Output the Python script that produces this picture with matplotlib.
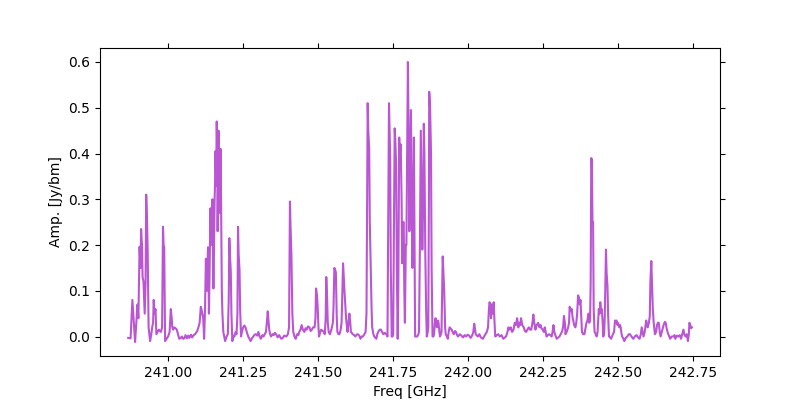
import matplotlib

# Use a non-interactive backend for saving files.
matplotlib.use('Agg')

import matplotlib.pyplot as plt
from matplotlib.ticker import ScalarFormatter

# --- Spectrum (frequency in GHz, amplitude in Jy/bm) ---
freq_ghz = [
    240.867, 240.875, 240.881, 240.885, 240.890, 240.894, 240.898, 240.901, 240.905, 240.908,
    240.910, 240.913, 240.915, 240.918, 240.922, 240.925, 240.927, 240.930, 240.932, 240.935,
    240.940, 240.944, 240.947, 240.950, 240.952, 240.955, 240.958, 240.961, 240.965, 240.969,
    240.976, 240.980, 240.983, 240.985, 240.987, 240.990, 240.995, 241.000, 241.005, 241.009,
    241.012, 241.014, 241.017, 241.020, 241.025, 241.029, 241.033, 241.037, 241.042, 241.046,
    241.050, 241.054, 241.058, 241.063, 241.067, 241.071, 241.076, 241.080, 241.085, 241.090,
    241.097, 241.101, 241.105, 241.109, 241.111, 241.114, 241.117, 241.120, 241.123, 241.126,
    241.129, 241.131, 241.133, 241.135, 241.136, 241.138, 241.141, 241.143, 241.146, 241.148,
    241.150, 241.151, 241.153, 241.155, 241.157, 241.158, 241.160, 241.162, 241.164, 241.165,
    241.166, 241.168, 241.170, 241.172, 241.173, 241.175, 241.177, 241.179, 241.181, 241.184,
    241.187, 241.190, 241.195, 241.199, 241.202, 241.204, 241.206, 241.209, 241.211, 241.214,
    241.218, 241.221, 241.225, 241.228, 241.231, 241.233, 241.235, 241.238, 241.240, 241.243,
    241.246, 241.250, 241.254, 241.258, 241.262, 241.267, 241.271, 241.275, 241.280, 241.284,
    241.288, 241.292, 241.297, 241.301, 241.305, 241.309, 241.314, 241.318, 241.322, 241.326,
    241.329, 241.332, 241.335, 241.337, 241.340, 241.343, 241.348, 241.352, 241.356, 241.360,
    241.365, 241.370, 241.377, 241.382, 241.387, 241.394, 241.399, 241.403, 241.406, 241.408,
    241.411, 241.414, 241.417, 241.421, 241.425, 241.430, 241.434, 241.437, 241.441, 241.445,
    241.449, 241.454, 241.458, 241.462, 241.466, 241.471, 241.475, 241.479, 241.483, 241.488,
    241.491, 241.493, 241.496, 241.498, 241.501, 241.503, 241.507, 241.510, 241.515, 241.519,
    241.522, 241.525, 241.527, 241.530, 241.532, 241.535, 241.539, 241.544, 241.549, 241.551,
    241.554, 241.557, 241.559, 241.562, 241.564, 241.568, 241.571, 241.575, 241.578, 241.580,
    241.583, 241.586, 241.588, 241.591, 241.593, 241.596, 241.598, 241.601, 241.604, 241.607,
    241.609, 241.612, 241.615, 241.620, 241.624, 241.628, 241.632, 241.637, 241.641, 241.645,
    241.649, 241.654, 241.658, 241.661, 241.663, 241.665, 241.667, 241.670, 241.672, 241.675,
    241.678, 241.680, 241.684, 241.687, 241.691, 241.694, 241.697, 241.700, 241.705, 241.709,
    241.713, 241.717, 241.722, 241.726, 241.729, 241.731, 241.733, 241.736, 241.738, 241.740,
    241.742, 241.745, 241.748, 241.750, 241.752, 241.755, 241.757, 241.760, 241.762, 241.765,
    241.767, 241.770, 241.772, 241.775, 241.778, 241.780, 241.783, 241.785, 241.787, 241.789,
    241.792, 241.794, 241.797, 241.799, 241.802, 241.804, 241.807, 241.809, 241.812, 241.814,
    241.817, 241.819, 241.821, 241.823, 241.827, 241.830, 241.834, 241.836, 241.839, 241.842,
    241.844, 241.847, 241.850, 241.852, 241.854, 241.857, 241.860, 241.862, 241.865, 241.867,
    241.869, 241.870, 241.873, 241.876, 241.878, 241.881, 241.884, 241.886, 241.889, 241.891,
    241.894, 241.896, 241.899, 241.901, 241.904, 241.906, 241.909, 241.911, 241.913, 241.915,
    241.918, 241.920, 241.923, 241.925, 241.929, 241.932, 241.935, 241.938, 241.941, 241.945,
    241.949, 241.952, 241.956, 241.959, 241.963, 241.966, 241.972, 241.977, 241.983, 241.988,
    241.993, 241.998, 242.003, 242.008, 242.013, 242.017, 242.020, 242.023, 242.025, 242.029,
    242.032, 242.037, 242.042, 242.049, 242.053, 242.057, 242.062, 242.066, 242.069, 242.071,
    242.074, 242.076, 242.078, 242.081, 242.083, 242.085, 242.087, 242.090, 242.095, 242.100,
    242.105, 242.111, 242.117, 242.122, 242.126, 242.130, 242.134, 242.138, 242.142, 242.146,
    242.151, 242.155, 242.159, 242.163, 242.167, 242.170, 242.173, 242.176, 242.180, 242.185,
    242.189, 242.193, 242.197, 242.202, 242.206, 242.210, 242.214, 242.217, 242.220, 242.224,
    242.228, 242.233, 242.237, 242.241, 242.244, 242.248, 242.252, 242.255, 242.258, 242.261,
    242.265, 242.270, 242.275, 242.278, 242.281, 242.284, 242.287, 242.289, 242.292, 242.295,
    242.300, 242.304, 242.308, 242.312, 242.316, 242.319, 242.322, 242.324, 242.328, 242.333,
    242.336, 242.338, 242.340, 242.343, 242.345, 242.348, 242.350, 242.353, 242.357, 242.360,
    242.363, 242.366, 242.369, 242.372, 242.374, 242.377, 242.379, 242.383, 242.387, 242.391,
    242.394, 242.397, 242.401, 242.403, 242.406, 242.408, 242.410, 242.412, 242.414, 242.416,
    242.418, 242.421, 242.425, 242.428, 242.431, 242.435, 242.438, 242.440, 242.443, 242.445,
    242.448, 242.450, 242.453, 242.455, 242.457, 242.459, 242.461, 242.464, 242.466, 242.469,
    242.473, 242.476, 242.479, 242.482, 242.486, 242.489, 242.491, 242.494, 242.497, 242.499,
    242.503, 242.506, 242.508, 242.511, 242.513, 242.517, 242.520, 242.525, 242.530, 242.535,
    242.539, 242.544, 242.550, 242.555, 242.561, 242.566, 242.571, 242.575, 242.578, 242.581,
    242.584, 242.588, 242.591, 242.593, 242.596, 242.598, 242.602, 242.605, 242.607, 242.610,
    242.612, 242.615, 242.618, 242.622, 242.626, 242.629, 242.632, 242.635, 242.638, 242.641,
    242.644, 242.647, 242.651, 242.655, 242.658, 242.661, 242.664, 242.668, 242.673, 242.678,
    242.683, 242.687, 242.690, 242.695, 242.700, 242.705, 242.709, 242.713, 242.717, 242.720,
    242.724, 242.728, 242.732, 242.735, 242.737, 242.740, 242.743, 242.745,
]

amp_jy = [
    -0.003, -0.004, 0.080, 0.040, -0.012, 0.030, 0.070, 0.040, 0.196, 0.150,
    0.235, 0.200, 0.130, 0.120, 0.050, 0.120, 0.310, 0.250, 0.185, 0.020,
    -0.010, 0.005, 0.020, 0.030, 0.080, 0.050, 0.060, 0.005, 0.010, 0.015,
    0.010, 0.020, 0.240, 0.200, 0.195, -0.010, -0.005, 0.000, 0.010, 0.060,
    0.040, 0.020, 0.015, 0.020, 0.018, 0.015, 0.005, -0.005, -0.003, 0.000,
    -0.005, -0.004, 0.003, -0.004, 0.002, -0.003, 0.004, -0.002, 0.003, 0.005,
    0.012, 0.020, 0.030, 0.065, 0.060, 0.050, 0.040, -0.005, 0.060, 0.170,
    0.100, 0.150, 0.195, 0.120, 0.050, 0.130, 0.280, 0.200, 0.285, 0.300,
    0.150, 0.105, 0.200, 0.300, 0.350, 0.405, 0.330, 0.470, 0.400, 0.230,
    0.300, 0.450, 0.350, 0.270, 0.330, 0.410, 0.250, 0.100, 0.050, 0.010,
    0.000, -0.010, 0.000, 0.005, 0.080, 0.215, 0.180, 0.140, 0.050, -0.010,
    0.002, 0.000, 0.010, 0.005, 0.050, 0.240, 0.180, 0.145, 0.060, 0.000,
    0.010, 0.020, 0.024, 0.020, 0.010, 0.000, -0.005, -0.010, -0.003, 0.000,
    0.004, 0.005, 0.002, 0.010, 0.000, -0.005, 0.003, 0.000, 0.005, 0.010,
    0.030, 0.055, 0.030, 0.015, 0.005, 0.000, 0.005, 0.003, 0.008, 0.005,
    -0.002, 0.003, -0.005, -0.003, 0.002, 0.000, 0.005, 0.020, 0.295, 0.240,
    0.175, 0.050, 0.010, 0.000, -0.005, 0.005, 0.003, 0.010, 0.015, 0.025,
    0.015, 0.010, 0.018, 0.015, 0.022, 0.020, 0.012, 0.015, 0.020, 0.020,
    0.040, 0.105, 0.090, 0.070, 0.020, 0.000, 0.010, 0.015, 0.012, 0.010,
    0.005, 0.040, 0.130, 0.080, 0.030, 0.010, 0.005, 0.015, 0.030, 0.060,
    0.150, 0.145, 0.140, 0.040, 0.010, 0.005, 0.005, 0.015, 0.030, 0.080,
    0.160, 0.120, 0.095, 0.060, 0.040, 0.020, 0.010, 0.030, 0.050, 0.030,
    0.010, 0.008, 0.005, 0.003, 0.000, 0.004, 0.005, 0.002, -0.005, 0.000,
    0.000, 0.005, 0.010, 0.050, 0.300, 0.510, 0.450, 0.410, 0.250, 0.150,
    0.060, 0.020, 0.005, 0.000, -0.003, -0.005, 0.005, 0.010, 0.015, 0.015,
    0.010, 0.005, 0.008, 0.005, 0.003, 0.000, 0.200, 0.510, 0.450, 0.390,
    0.150, 0.000, 0.000, 0.005, 0.200, 0.455, 0.430, 0.370, 0.150, -0.005,
    0.100, 0.435, 0.400, 0.420, 0.300, 0.160, 0.250, 0.250, 0.100, 0.030,
    0.200, 0.200, 0.450, 0.600, 0.400, 0.230, 0.400, 0.495, 0.300, 0.150,
    0.300, 0.435, 0.200, 0.000, 0.000, 0.000, 0.005, 0.010, 0.200, 0.450,
    0.350, 0.190, 0.300, 0.465, 0.400, 0.180, 0.050, 0.000, 0.010, 0.020,
    0.300, 0.535, 0.500, 0.400, 0.150, 0.000, 0.000, 0.005, 0.030, 0.040,
    0.025, 0.020, 0.035, 0.030, 0.010, 0.000, 0.005, 0.010, 0.100, 0.175,
    0.130, 0.100, 0.020, 0.005, 0.000, -0.005, 0.010, 0.020, 0.018, 0.015,
    0.008, 0.005, 0.012, 0.010, 0.003, 0.000, 0.005, 0.002, -0.002, 0.003,
    0.000, 0.004, 0.002, -0.003, 0.002, 0.010, 0.028, 0.015, 0.005, 0.002,
    0.000, 0.005, -0.002, -0.005, 0.000, 0.005, 0.010, 0.020, 0.060, 0.075,
    0.070, 0.040, 0.070, 0.050, 0.065, 0.075, 0.040, 0.000, 0.003, 0.005,
    0.000, 0.003, -0.005, -0.002, 0.000, 0.008, 0.020, 0.015, 0.020, 0.010,
    0.015, 0.030, 0.025, 0.040, 0.020, 0.030, 0.025, 0.040, 0.025, 0.020,
    0.012, 0.010, 0.015, 0.020, 0.015, 0.015, 0.030, 0.048, 0.030, 0.015,
    0.025, 0.030, 0.020, 0.025, 0.018, 0.015, 0.010, 0.020, 0.010, 0.000,
    0.003, 0.005, 0.002, 0.000, 0.010, 0.025, 0.010, 0.005, 0.000, -0.005,
    -0.002, 0.000, 0.005, 0.010, 0.020, 0.045, 0.030, 0.005, 0.010, 0.020,
    0.030, 0.065, 0.060, 0.055, 0.060, 0.040, 0.035, 0.025, 0.020, 0.030,
    0.050, 0.090, 0.085, 0.070, 0.080, 0.040, 0.010, 0.005, 0.005, 0.020,
    0.030, 0.035, 0.050, 0.030, 0.035, 0.120, 0.390, 0.385, 0.250, 0.250,
    0.060, 0.010, 0.005, 0.000, 0.010, 0.060, 0.050, 0.075, 0.055, 0.060,
    0.030, 0.000, 0.010, 0.045, 0.120, 0.190, 0.140, 0.110, 0.050, 0.000,
    -0.002, -0.005, 0.000, 0.005, 0.010, 0.035, 0.030, 0.035, 0.025, 0.030,
    0.020, 0.025, 0.020, 0.005, 0.000, -0.005, -0.010, -0.003, 0.000, 0.005,
    0.005, 0.000, -0.005, 0.000, 0.003, -0.002, -0.005, 0.005, 0.020, 0.010,
    0.000, 0.010, 0.025, 0.035, 0.025, 0.020, 0.030, 0.045, 0.120, 0.165,
    0.120, 0.060, 0.030, 0.005, 0.010, 0.025, 0.030, 0.030, 0.010, 0.000,
    0.008, 0.015, 0.025, 0.032, 0.030, 0.018, 0.010, 0.003, -0.005, 0.000,
    0.000, 0.003, -0.005, 0.002, 0.000, 0.003, -0.005, 0.005, 0.015, 0.005,
    0.000, 0.005, -0.010, 0.005, 0.030, 0.025, 0.018, 0.020,
]

line_color = '#BA55D3'


def plot_spectrum(output_filename: str) -> None:
    # --- 1. Figure and line ---
    fig, ax = plt.subplots(figsize=(8, 4), dpi=100)
    ax.plot(freq_ghz, amp_jy, color=line_color, linewidth=1.5)

    # --- 2. Axes styling: ticks on all four sides, labels bottom/left only ---
    ax.set_xlabel('Freq [GHz]')
    ax.set_ylabel('Amp. [Jy/bm]')
    ax.tick_params(top=True, right=True, direction='out')
    fmt = ScalarFormatter(useOffset=False)
    ax.xaxis.set_major_formatter(fmt)

    # --- 3. Save ---
    fig.savefig(output_filename, dpi=100)


if __name__ == '__main__':
    assert len(freq_ghz) == len(amp_jy)
    plot_spectrum('out.png')
